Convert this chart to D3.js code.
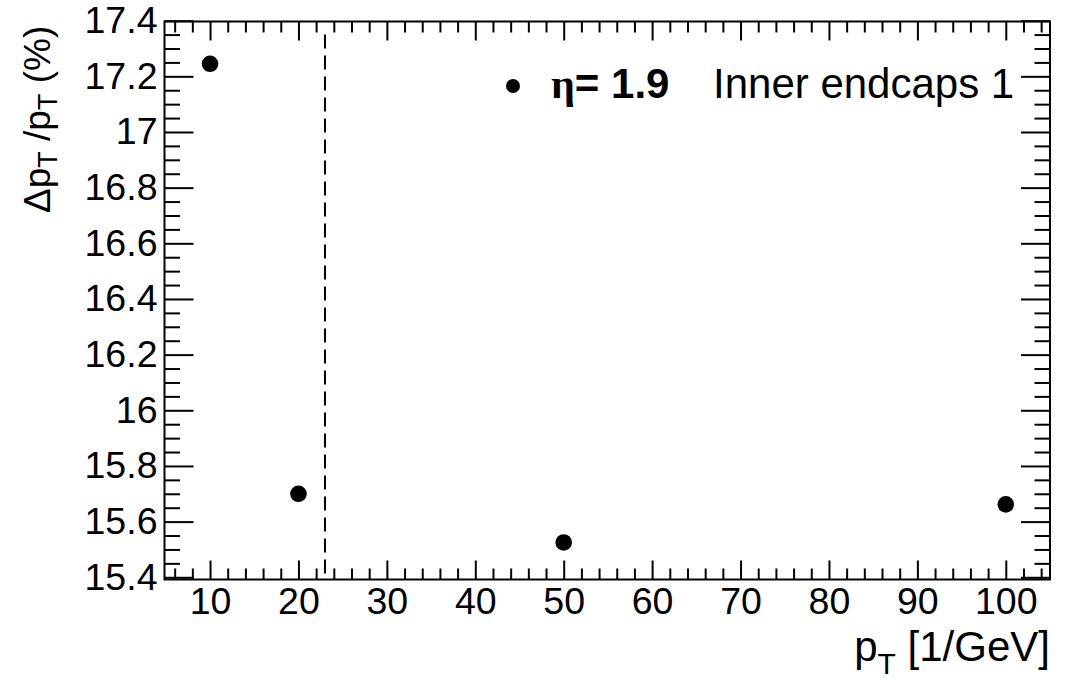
<!DOCTYPE html>
<html>
<head>
<meta charset="utf-8">
<script src="https://cdn.jsdelivr.net/npm/d3@7"></script>
<style>
  body { margin: 0; background: #fff; }
  svg { display: block; font-family: "Liberation Sans", Arial, sans-serif; }
  .tick text { font-size: 37.5px; fill: #000; }
</style>
</head>
<body>
<script>
const w = 1066;
const h = 686;
const margin = {top: 21.5, right: 16, bottom: 106.5, left: 164.5};

// pT points and the measured resolution at eta = 1.9
const ptValues = [10, 20, 50, 100];
const resolution = [17.245, 15.70, 15.525, 15.662];
const cutPt = 23;

const xTicks = [10, 20, 30, 40, 50, 60, 70, 80, 90, 100];
const yTicks = [15.4, 15.6, 15.8, 16, 16.2, 16.4, 16.6, 16.8, 17, 17.2, 17.4];
const xDomain = [4.85, 105];
const yDomain = [15.392, 17.397];

const xScale = d3.scaleLinear()
                 .domain(xDomain)
                 .range([margin.left, w - margin.right]);

const yScale = d3.scaleLinear()
                 .domain(yDomain)
                 .range([h - margin.bottom, margin.top]);

// minor ticks: 2 GeV steps on x, 0.05 steps on y
const xMinor = d3.range(6, 105, 2).filter(v => v % 10 !== 0);
const yMinor = d3.range(0, 41).map(i => +(15.4 + i * 0.05).toFixed(2))
                 .filter(v => Math.round(v * 100) % 20 !== 0 && v < yDomain[1]);

const svg = d3.select("body")
              .append("svg")
              .attr("width", w)
              .attr("height", h)

function drawAxis(axis, transform, labels) {
  const g = svg.append("g")
               .attr("transform", transform)
               .call(axis)
  g.select(".domain").remove()
  g.selectAll(".tick line").attr("stroke", "#000").attr("stroke-width", 2)
  if (!labels) g.selectAll(".tick text").remove()
  return g
}

const bottomY = "translate(0," + (h - margin.bottom) + ")";
const topY = "translate(0," + margin.top + ")";
const leftX = "translate(" + margin.left + ",0)";
const rightX = "translate(" + (w - margin.right) + ",0)";

// x axis, ticks drawn inward on bottom and top
drawAxis(d3.axisBottom(xScale).tickValues(xTicks).tickSize(-19).tickPadding(8), bottomY, true)
drawAxis(d3.axisBottom(xScale).tickValues(xMinor).tickSize(-11), bottomY, false)
drawAxis(d3.axisTop(xScale).tickValues(xTicks).tickSize(-19), topY, false)
drawAxis(d3.axisTop(xScale).tickValues(xMinor).tickSize(-11), topY, false)

// y axis, ticks drawn inward on left and right
drawAxis(d3.axisLeft(yScale).tickValues(yTicks).tickSize(-29).tickPadding(7).tickFormat(d3.format("")), leftX, true)
drawAxis(d3.axisLeft(yScale).tickValues(yMinor).tickSize(-15.5), leftX, false)
drawAxis(d3.axisRight(yScale).tickValues(yTicks).tickSize(-29), rightX, false)
drawAxis(d3.axisRight(yScale).tickValues(yMinor).tickSize(-15.5), rightX, false)

svg.selectAll(".tick text").attr("font-family", "Liberation Sans, Arial, sans-serif")

// frame
svg.append("rect")
   .attr("x", margin.left)
   .attr("y", margin.top)
   .attr("width", w - margin.left - margin.right)
   .attr("height", h - margin.top - margin.bottom)
   .attr("fill", "none")
   .attr("stroke", "#000")
   .attr("stroke-width", 2)

// dashed cut line
svg.append("line")
   .attr("x1", xScale(cutPt))
   .attr("x2", xScale(cutPt))
   .attr("y1", yScale(17.35))
   .attr("y2", yScale(yDomain[0]))
   .attr("stroke", "#000")
   .attr("stroke-width", 2)
   .attr("stroke-dasharray", "14,7")

svg.selectAll(".point")
   .data(ptValues)
   .enter()
   .append("circle")
   .attr("class", "point")
   .attr("cx", d => xScale(d))
   .attr("cy", (d, i) => yScale(resolution[i]))
   .attr("r", 8.3)
   .attr("fill", "#000")

// legend
const legend = svg.append("g")
legend.append("circle")
      .attr("cx", 513)
      .attr("cy", 86)
      .attr("r", 7)
      .attr("fill", "#000")
const legText = legend.append("text")
      .attr("x", 551)
      .attr("y", 98)
      .style("font-size", "42px")
legText.append("tspan")
       .attr("font-family", "Liberation Serif, serif")
       .attr("font-weight", "bold")
       .text("η")
legText.append("tspan")
       .attr("font-weight", "bold")
       .text("= 1.9")
legText.append("tspan")
       .attr("x", 713)
       .text("Inner endcaps 1")

// axis titles
const yTitle = svg.append("text")
                  .attr("transform", "translate(50,213) rotate(-90)")
                  .style("font-size", "37px")
yTitle.append("tspan").text("Δp")
yTitle.append("tspan").attr("dy", 7).style("font-size", "27px").text("T")
yTitle.append("tspan").attr("dy", -7).text(" /p")
yTitle.append("tspan").attr("dy", 7).style("font-size", "27px").text("T")
yTitle.append("tspan").attr("dy", -7).text(" (%)")

const xTitle = svg.append("text")
                  .attr("x", w - margin.right)
                  .attr("y", 661)
                  .attr("text-anchor", "end")
                  .style("font-size", "42px")
xTitle.append("tspan").text("p")
xTitle.append("tspan").attr("dy", 13).style("font-size", "30px").text("T")
xTitle.append("tspan").attr("dy", -13).text(" [1/GeV]")
</script>
</body>
</html>
